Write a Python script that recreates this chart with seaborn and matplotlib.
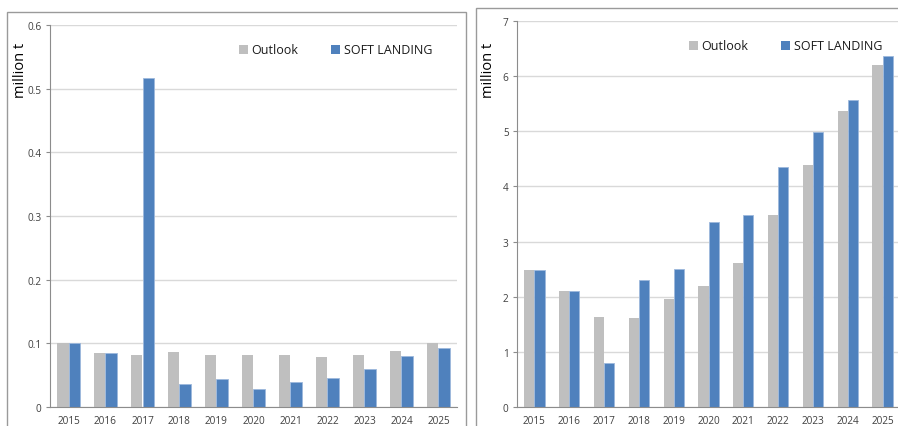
import matplotlib
matplotlib.use("Agg")
import matplotlib.pyplot as plt
from matplotlib.patches import Patch, Rectangle
import numpy as np
import pandas as pd
import seaborn as sns

years = [str(y) for y in range(2015, 2026)]
series_names = ["Outlook", "SOFT LANDING"]

# left chart values (million t)
left_outlook = [0.100, 0.085, 0.082, 0.086, 0.082, 0.082, 0.081, 0.079, 0.082, 0.088, 0.100]
left_soft = [0.100, 0.085, 0.516, 0.036, 0.044, 0.029, 0.040, 0.046, 0.060, 0.080, 0.093]

# right chart values (million t)
right_outlook = [2.49, 2.10, 1.64, 1.62, 1.95, 2.19, 2.62, 3.48, 4.39, 5.36, 6.20]
right_soft = [2.49, 2.10, 0.79, 2.31, 2.50, 3.35, 3.48, 4.35, 4.99, 5.57, 6.36]

left_ticks = [0, 0.1, 0.2, 0.3, 0.4, 0.5, 0.6]
left_ticklabels = ["0", "0.1", "0.2", "0.3", "0.4", "0.5", "0.6"]
right_ticks = [0, 1, 2, 3, 4, 5, 6, 7]
right_ticklabels = ["0", "1", "2", "3", "4", "5", "6", "7"]

GREY = "#BFBFBF"
BLUE = "#4F81BD"
GRID = "#D9D9D9"
AXIS = "#8C8C8C"
TEXT = "#404040"

sns.set_theme(style="white")
plt.rcParams["font.family"] = ["Open Sans", "DejaVu Sans"]

W, H = 898, 427
fig = plt.figure(figsize=(W / 100, H / 100), dpi=100)


def fx(px):
    return px / W


def fy(py):
    return 1 - py / H


# outer chart frames
fig.patches.append(Rectangle((fx(7), fy(440)), fx(466 - 7), fy(13) - fy(440),
                             transform=fig.transFigure, fill=False,
                             edgecolor="#9A9A9A", linewidth=1.0))
fig.patches.append(Rectangle((fx(476), fy(440)), fx(930 - 476), fy(9) - fy(440),
                             transform=fig.transFigure, fill=False,
                             edgecolor="#9A9A9A", linewidth=1.0))


def long_frame(outlook, soft):
    return pd.DataFrame({
        "year": years * 2,
        "value": list(outlook) + list(soft),
        "scenario": [series_names[0]] * len(years) + [series_names[1]] * len(years),
    })


def draw(ax, outlook, soft, ymax, ticks, ticklabels, width, legend_xy, ylabel_x):
    df = long_frame(outlook, soft)
    sns.barplot(data=df, x="year", y="value", hue="scenario",
                palette=[GREY, BLUE], width=width, saturation=1,
                linewidth=0, ax=ax, legend=False)
    for p in ax.patches:
        fc = p.get_facecolor()
        if abs(fc[2] - 0.74) < 0.05 and fc[0] < 0.5:
            p.set_edgecolor("#9DB8DC")
            p.set_linewidth(0.6)
    ax.set_xlim(-0.5, len(years) - 0.5)
    ax.set_ylim(0, ymax)
    ax.set_yticks(ticks)
    ax.set_yticklabels(ticklabels)
    ax.yaxis.grid(True, color=GRID, linewidth=1.0)
    ax.set_axisbelow(True)
    for s in ["top", "right"]:
        ax.spines[s].set_visible(False)
    for s in ["left", "bottom"]:
        ax.spines[s].set_color(AXIS)
        ax.spines[s].set_linewidth(0.8)
    ax.set_xticks(np.arange(-0.5, len(years), 1.0), minor=True)
    ax.tick_params(axis="x", which="major", length=0, pad=6,
                   labelsize=7.2, labelcolor=TEXT)
    ax.tick_params(axis="x", which="minor", length=3, width=0.8,
                   color=AXIS, direction="out")
    ax.tick_params(axis="y", length=3, width=0.8, color=AXIS, pad=3,
                   labelsize=7.2, labelcolor=TEXT, left=True)
    ax.set_xlabel("")
    ax.set_ylabel("")
    fig.text(ylabel_x, fy(70), "million t", rotation=90, ha="center",
             va="center", fontsize=10.5, color="black")
    handles = [Patch(facecolor=GREY, edgecolor="none"),
               Patch(facecolor=BLUE, edgecolor="none")]
    ax.legend(handles, series_names, loc="center left",
              bbox_to_anchor=legend_xy, bbox_transform=fig.transFigure,
              ncol=2, frameon=False, fontsize=9, handlelength=0.7,
              handleheight=0.7, handletextpad=0.3, columnspacing=2.6,
              borderaxespad=0, borderpad=0, labelcolor="#1A1A1A")


ax_left = fig.add_axes([fx(50), fy(408), fx(457 - 50), fy(26) - fy(408)])
draw(ax_left, left_outlook, left_soft, 0.6, left_ticks, left_ticklabels,
     0.6, (fx(239), fy(51)), fx(20))

ax_right = fig.add_axes([fx(517), fy(408), fx(900 - 517), fy(22) - fy(408)])
draw(ax_right, right_outlook, right_soft, 7, right_ticks, right_ticklabels,
     0.58, (fx(689), fy(47)), fx(489))

fig.savefig("out.png", dpi=100)
